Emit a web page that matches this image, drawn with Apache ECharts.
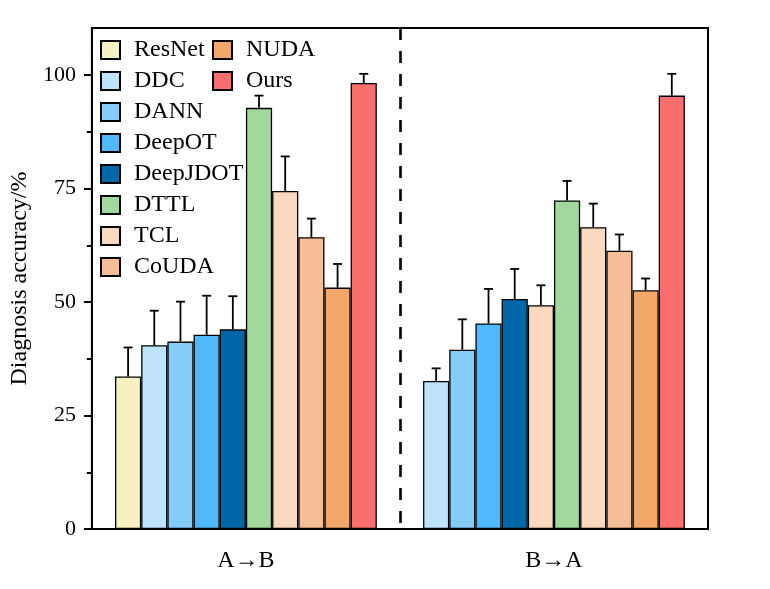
<!DOCTYPE html>
<html>
<head>
<meta charset="utf-8">
<script src="https://cdn.jsdelivr.net/npm/echarts@6/dist/echarts.min.js"></script>
<style>html,body{margin:0;padding:0;background:#fff;}#c{width:770px;height:589px;}</style>
</head>
<body>
<div id="c"></div>
<script>
// ---- data ----
const categories = ['A\u2192B', 'B\u2192A'];
const methods = ['ResNet', 'DDC', 'DANN', 'DeepOT', 'DeepJDOT', 'DTTL', 'TCL', 'CoUDA', 'NUDA', 'Ours'];
const methodColors = ['#F6F1C1', '#BEE4FB', '#85CDF9', '#4FB9FB', '#0067A9', '#A1D99D', '#FAD9BE', '#F6BE95', '#F3A768', '#FA6E6E'];
// A->B bars in slot order (methods order)
const abValues = [33.6, 40.5, 41.3, 42.8, 44.0, 92.8, 74.5, 64.3, 53.2, 98.3];
const abErrTop = [40.0, 48.1, 50.1, 51.4, 51.3, 95.5, 82.1, 68.4, 58.4, 100.3];
// B->A bars in slot order (method shown in each slot)
const baMethods = ['DDC', 'DANN', 'DeepOT', 'DeepJDOT', 'TCL', 'DTTL', 'TCL', 'CoUDA', 'NUDA', 'Ours'];
const baValues = [32.6, 39.5, 45.3, 50.7, 49.3, 72.4, 66.5, 61.3, 52.6, 95.5];
const baErrTop = [35.4, 46.2, 52.9, 57.3, 53.7, 76.7, 71.7, 64.9, 55.2, 100.3];
const yMajorTicks = [0, 25, 50, 75, 100];
const yMinorTicks = [12.5, 37.5, 62.5, 87.5];

// ---- chart ----
const FONT = 'Liberation Serif';
const CAT_GAP = 0.15;
const Y_MAX = 110.4;
const nSlots = methods.length;
const colorOf = m => methodColors[methods.indexOf(m)];

const barSeries = methods.map((m, i) => ({
  name: m,
  type: 'bar',
  barGap: '0%',
  barCategoryGap: (CAT_GAP * 100) + '%',
  itemStyle: { color: methodColors[i], borderColor: '#000', borderWidth: 1.3 },
  data: [
    { value: abValues[i] },
    { value: baValues[i], itemStyle: { color: colorOf(baMethods[i]), borderColor: '#000', borderWidth: 1.3 } }
  ]
}));

const errData = [];
for (let i = 0; i < nSlots; i++) {
  errData.push([0, abValues[i], abErrTop[i], i]);
  errData.push([1, baValues[i], baErrTop[i], i]);
}

const errSeries = {
  name: 'err',
  type: 'custom',
  z: 5,
  data: errData,
  encode: { x: 0, y: [1, 2] },
  renderItem: function (params, api) {
    const cat = api.value(0), val = api.value(1), top = api.value(2), slot = api.value(3);
    const catW = api.size([1, 0])[0];
    const bw = catW * (1 - CAT_GAP) / nSlots;
    const p = api.coord([cat, val]);
    const x = p[0] + (slot - (nSlots - 1) / 2) * bw;
    const yT = api.coord([cat, top])[1];
    const st = { stroke: '#000', lineWidth: 1.8 };
    return {
      type: 'group',
      children: [
        { type: 'line', shape: { x1: x, y1: p[1], x2: x, y2: yT }, style: st },
        { type: 'line', shape: { x1: x - 4.5, y1: yT, x2: x + 4.5, y2: yT }, style: st }
      ]
    };
  }
};

const legendCommon = {
  orient: 'vertical',
  icon: 'rect',
  itemWidth: 19,
  itemHeight: 18,
  itemGap: 7,
  padding: 0,
  top: 38,
  selectedMode: false,
  textStyle: { fontFamily: FONT, fontSize: 24, color: '#000', padding: [0, 0, 0, 9] }
};

const option = {
  backgroundColor: '#fff',
  animation: false,
  textStyle: { fontFamily: FONT },
  grid: { left: 91, right: 62, top: 28, bottom: 60, show: true, borderColor: '#000', borderWidth: 2, backgroundColor: 'transparent' },
  legend: [
    Object.assign({}, legendCommon, { left: 100, data: methods.slice(0, 8) }),
    Object.assign({}, legendCommon, { left: 212, data: methods.slice(8) })
  ],
  xAxis: {
    type: 'category',
    data: categories,
    boundaryGap: true,
    axisLine: { lineStyle: { color: '#000', width: 2 } },
    axisTick: { alignWithLabel: true, length: 6, lineStyle: { color: '#000', width: 2 } },
    axisLabel: { color: '#000', fontFamily: FONT, fontSize: 24, margin: 20 },
    splitLine: { show: true, showMinLine: false, showMaxLine: false, lineStyle: { color: '#000', width: 2.6, type: [12, 11] } }
  },
  yAxis: [
    {
      type: 'value',
      position: 'left',
      min: 0,
      max: Y_MAX,
      interval: 25,
      name: 'Diagnosis accuracy/%',
      nameLocation: 'middle',
      nameGap: 47,
      nameTextStyle: { color: '#000', fontFamily: FONT, fontSize: 24 },
      axisLine: { show: true, lineStyle: { color: '#000', width: 2 } },
      axisTick: { show: true, length: 8, customValues: yMajorTicks, lineStyle: { color: '#000', width: 2 } },
      axisLabel: { color: '#000', fontFamily: FONT, fontSize: 22, margin: 16, customValues: yMajorTicks },
      splitLine: { show: false }
    },
    {
      type: 'value',
      position: 'left',
      min: 0,
      max: Y_MAX,
      interval: 25,
      axisLine: { show: false },
      axisTick: { show: true, length: 5, customValues: yMinorTicks, lineStyle: { color: '#000', width: 2 } },
      axisLabel: { show: false },
      splitLine: { show: false }
    }
  ],
  series: barSeries.concat([errSeries])
};

const chart = echarts.init(document.getElementById('c'), null, { renderer: 'canvas' });
chart.setOption(option);
</script>
</body>
</html>
